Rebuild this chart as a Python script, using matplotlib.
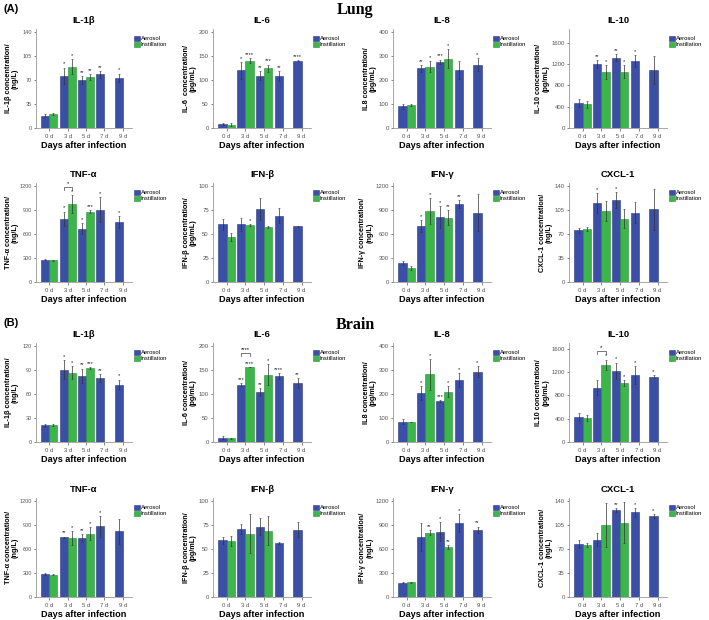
import matplotlib
matplotlib.use("Agg")
import matplotlib.pyplot as plt
import numpy as np

plt.rcParams["font.family"] = ["Liberation Sans", "DejaVu Sans"]

DAYS = ["0 d", "3 d", "5 d", "7 d", "9 d"]
CYTO = ["IL-1β", "IL-6", "IL-8", "IL-10", "TNF-α", "IFN-β", "IFN-γ", "CXCL-1"]

LUNG_YLABELS = ["IL-1β concentration/\n(ng/L)", "IL-6  concentration/\n(pg/mL)",
                "IL8 concentration/\n(pg/mL)", "IL-10 concentration/\n(pg/mL)",
                "TNF-α concentration/\n(ng/L)", "IFN-β concentration/\n(pg/mL)",
                "IFN-γ concentration/\n(ng/L)", "CXCL-1 concentration/\n(ng/L)"]
BRAIN_YLABELS = ["IL-1β concentration/\n(ng/L)", "IL-6 concentration/\n(pg/mL)",
                 "IL8 concentration/\n(pg/mL)", "IL10 concentration/\n(pg/mL)",
                 "TNF-α concentration/\n(ng/L)", "IFN-β concentration/\n(pg/mL)",
                 "IFN-γ concentration/\n(ng/L)", "CXCL-1 concentration/\n(ng/L)"]

# y tick top / axis top
LUNG_YTOP = [140, 200, 400, 1600, 1200, 100, 1200, 140]
BRAIN_YTOP = [120, 200, 400, 1600, 1200, 100, 1200, 140]
LUNG_YMAX = [144, 206, 412, 1860, 1236, 103, 1236, 144]
BRAIN_YMAX = [124, 206, 412, 1700, 1236, 103, 1236, 144]

# ---- Lung ----
LUNG_AER_MEAN = [
    [18, 76, 70, 78, 73],
    [8, 120, 109, 108, 140],
    [91, 248, 275, 241, 264],
    [470, 1200, 1320, 1260, 1090],
    [278, 790, 665, 905, 745],
    [60, 60, 76, 69, 58],
    [235, 700, 812, 970, 866],
    [75, 115, 119, 101, 106]]
LUNG_AER_ERR = [
    [2, 12, 6, 5, 6],
    [2, 17, 10, 10, 1],
    [10, 14, 10, 38, 28],
    [70, 75, 70, 110, 260],
    [5, 90, 70, 150, 75],
    [6, 7, 11, 8, 0.5],
    [25, 75, 140, 50, 235],
    [3, 14, 12, 15, 30]]
LUNG_INS_MEAN = [
    [20, 89, 74],
    [7, 140, 124],
    [96, 255, 289],
    [445, 1050, 1060],
    [270, 975, 880],
    [47, 59.5, 57],
    [176, 887, 803],
    [77, 103.5, 92]]
LUNG_INS_ERR = [
    [1.5, 11, 4],
    [3, 5, 8],
    [3, 22, 40],
    [70, 130, 120],
    [5, 110, 20],
    [4, 1, 1],
    [20, 165, 90],
    [3, 15, 14]]
LUNG_AER_STARS = [
    ["", "*", "**", "**", "*"],
    ["", "*", "**", "**", "****"],
    ["", "**", "***", "", "*"],
    ["", "**", "**", "*", ""],
    ["", "*", "*", "*", "*"],
    ["", "", "", "", ""],
    ["", "*", "*", "**", ""],
    ["", "*", "*", "", ""]]
LUNG_INS_STARS = [
    ["", "*", "**"],
    ["", "****", "***"],
    ["", "*", "*"],
    ["", "*", "*"],
    ["", "*", "***"],
    ["", "*", ""],
    ["", "*", "**"],
    ["", "", ""]]

# ---- Brain ----
BRAIN_AER_MEAN = [
    [21, 90.5, 83, 80, 72],
    [9, 119, 104, 138, 123],
    [85, 203, 171, 258, 293],
    [427, 931, 1222, 1150, 1118],
    [284, 745, 737, 881, 818],
    [59, 70.5, 73, 56.5, 70],
    [178, 750, 813, 924, 839],
    [77.5, 83.5, 126.5, 123, 118]]
BRAIN_AER_ERR = [
    [2, 12, 9, 5, 6],
    [3, 3, 8, 6, 10],
    [10, 28, 3, 30, 22],
    [70, 130, 140, 150, 25],
    [10, 10, 50, 130, 160],
    [3.5, 5, 9, 1, 8],
    [5, 175, 120, 110, 40],
    [6, 9, 3, 6, 3]]
BRAIN_INS_MEAN = [
    [21.6, 87, 93],
    [8, 156, 140],
    [84, 281, 209],
    [416, 1326, 1014],
    [280, 737, 788],
    [58, 66, 69],
    [182, 805, 627],
    [76, 104.5, 108]]
BRAIN_INS_ERR = [
    [1, 8, 1],
    [1, 0.5, 22],
    [1, 65, 22],
    [55, 90, 50],
    [8, 85, 80],
    [5, 20, 15],
    [8, 30, 25],
    [3, 32, 30]]
BRAIN_AER_STARS = [
    ["", "*", "**", "**", "*"],
    ["", "***", "**", "****", "**"],
    ["", "*", "***", "*", "*"],
    ["", "", "*", "*", "*"],
    ["", "**", "**", "*", ""],
    ["", "", "", "", ""],
    ["", "", "*", "*", "**"],
    ["", "", "**", "*", "*"]]
BRAIN_INS_STARS = [
    ["", "*", "***"],
    ["", "****", "*"],
    ["", "*", "*"],
    ["", "*", "*"],
    ["", "*", "*"],
    ["", "", ""],
    ["", "**", "**"],
    ["", "", ""]]

# 3 d aerosol-vs-instillation brackets: (organ, panel index, bracket y, label)
BRACKETS = [("lung", 4, 1180, "*"), ("brain", 1, 185, "****"), ("brain", 3, 1560, "*")]

BLUE, BLUE_E = "#3c4fa6", "#2b3a85"
GREEN, GREEN_E = "#3cb54b", "#2a8c38"
W = 0.44

FW, FH = 709, 620
COL_X = [36, 213, 393, 569]
COL_W = [96, 98, 98, 98]
ROW_Y0 = [128, 282, 442, 597]   # pixel y of zero line
AX_H = 99

fig = plt.figure(figsize=(FW / 100, FH / 100), dpi=100)


def draw_panel(ax, title, ylabel, ytop, ymax, am, ae, im, ie, ast, ist, bracket, tsize):
    x = np.arange(len(DAYS))
    xa = x - W / 2
    xi = x[:len(im)] + W / 2
    ax.bar(xa, am, W, color=BLUE, edgecolor=BLUE_E, linewidth=0.4, label="Aerosol", zorder=2)
    ax.bar(xi, im, W, color=GREEN, edgecolor=GREEN_E, linewidth=0.4, label="Instillation", zorder=2)
    ax.errorbar(xa, am, yerr=ae, fmt="none", ecolor="#333333", elinewidth=0.5, capsize=0.8,
                capthick=0.4, zorder=3)
    ax.errorbar(xi, im, yerr=ie, fmt="none", ecolor="#333333", elinewidth=0.5, capsize=0.8,
                capthick=0.4, zorder=3)
    off = ymax * 0.012
    for xx, m, e, s in zip(xa, am, ae, ast):
        if s:
            ax.text(xx, m + e + off, s, ha="center", va="bottom", fontsize=4.2, color="#222222")
    for xx, m, e, s in zip(xi, im, ie, ist):
        if s:
            ax.text(xx, m + e + off, s, ha="center", va="bottom", fontsize=4.2, color="#222222")
    if bracket is not None:
        by, lab = bracket
        d = ymax * 0.03
        ax.plot([xa[1], xa[1], xi[1], xi[1]], [by - d, by, by, by - d], color="#444444", lw=0.5)
        ax.text((xa[1] + xi[1]) / 2, by + off, lab, ha="center", va="bottom", fontsize=4.2)

    ax.set_xlim(-0.73, 4.5)
    ax.set_ylim(0, ymax)
    ax.set_yticks(np.linspace(0, ytop, 5))
    ax.set_xticks(x)
    ax.set_xticklabels(DAYS)
    ax.tick_params(labelsize=4.3, colors="#555555", length=2, width=0.5, pad=2)
    ax.tick_params(axis="y", labelsize=tsize, length=1.5, pad=1.5)
    for s in ["top", "right"]:
        ax.spines[s].set_visible(False)
    for s in ["left", "bottom"]:
        ax.spines[s].set_color("#999999")
        ax.spines[s].set_linewidth(0.6)
    ax.set_title(title, fontsize=6.8, fontweight="bold", pad=4)
    ax.set_ylabel(ylabel, fontsize=5.2, fontweight="bold", labelpad=1.5, linespacing=1.0)
    ax.set_xlabel("Days after infection", fontsize=6.6, fontweight="bold", labelpad=2)
    ax.legend(loc="upper left", bbox_to_anchor=(1.0, 0.95), fontsize=4.2, frameon=False,
              handlelength=1.0, handleheight=1.0, handletextpad=0.2, labelspacing=0.05,
              borderpad=0, borderaxespad=0.3)


organs = [
    ("lung", 0, LUNG_YLABELS, LUNG_YTOP, LUNG_YMAX, LUNG_AER_MEAN, LUNG_AER_ERR,
     LUNG_INS_MEAN, LUNG_INS_ERR, LUNG_AER_STARS, LUNG_INS_STARS),
    ("brain", 2, BRAIN_YLABELS, BRAIN_YTOP, BRAIN_YMAX, BRAIN_AER_MEAN, BRAIN_AER_ERR,
     BRAIN_INS_MEAN, BRAIN_INS_ERR, BRAIN_AER_STARS, BRAIN_INS_STARS),
]

for name, row0, ylabs, ytops, ymaxs, am, ae, im, ie, ast, ist in organs:
    for k in range(8):
        r = row0 + k // 4
        c = k % 4
        y0 = ROW_Y0[r]
        ax = fig.add_axes([COL_X[c] / FW, 1 - y0 / FH, COL_W[c] / FW, AX_H / FH])
        br = None
        for o, idx, by, lab in BRACKETS:
            if o == name and idx == k:
                br = (by, lab)
        draw_panel(ax, CYTO[k], ylabs[k], ytops[k], ymaxs[k], am[k], ae[k], im[k], ie[k],
                   ast[k], ist[k], br, 4.0 if c == 0 else 4.3)
        if c == 0:
            # keep the left column's labels inside the figure
            ax.yaxis.set_label_coords(-0.18, 0.5)

fig.text(3 / FW, 1 - 9 / FH, "(A)", fontsize=8, fontweight="bold", va="center", ha="left")
fig.text(355 / FW, 1 - 10 / FH, "Lung", fontsize=11.5, fontweight="bold", va="center",
         ha="center", family="Liberation Serif")
fig.text(3 / FW, 1 - 323 / FH, "(B)", fontsize=8, fontweight="bold", va="center", ha="left")
fig.text(355 / FW, 1 - 325 / FH, "Brain", fontsize=11.5, fontweight="bold", va="center",
         ha="center", family="Liberation Serif")

fig.savefig("out.png", dpi=100)
